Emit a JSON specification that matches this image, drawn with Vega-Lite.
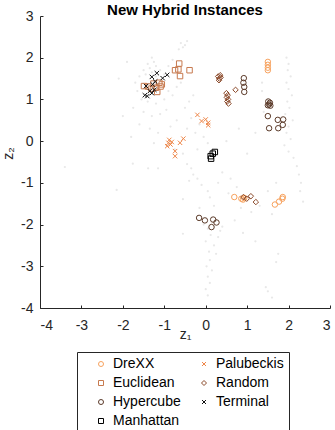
{
 "$schema": "https://vega.github.io/schema/vega-lite/v6.json",
 "width": 290,
 "height": 292,
 "autosize": {"type": "none"},
 "padding": {"left": 40, "top": 16, "right": 5, "bottom": 122},
 "title": {"text": "New Hybrid Instances", "fontSize": 15, "fontWeight": "bold", "font": "Liberation Sans", "anchor": "middle", "color": "#000000", "baseline": "alphabetic", "offset": -3, "dy": 17.5},
 "config": {
  "view": {"stroke": null},
  "font": "Liberation Sans",
  "axis": {"grid": false, "domainColor": "#262626", "tickColor": "#262626", "labelColor": "#262626", "titleColor": "#262626", "labelFont": "Liberation Sans", "titleFont": "Liberation Sans", "labelFontSize": 14, "titleFontSize": 14, "titleFontWeight": "normal", "tickSize": -3, "domainWidth": 1, "tickWidth": 1}
 },
 "datasets": {
  "bg": [
   {"z1": -0.6, "z2": 2.35}, {"z1": -0.55, "z2": 2.25}, {"z1": -0.5, "z2": 2.3}, {"z1": -0.65, "z2": 2.2}, {"z1": -0.45, "z2": 2.4},
   {"z1": -1.3, "z2": 2.0}, {"z1": -1.25, "z2": 1.9}, {"z1": -1.4, "z2": 1.85}, {"z1": -1.2, "z2": 1.8}, {"z1": -1.35, "z2": 1.75},
   {"z1": -1.5, "z2": 1.7}, {"z1": -1.1, "z2": 1.7}, {"z1": -1.45, "z2": 1.6}, {"z1": -1.3, "z2": 1.65}, {"z1": -1.2, "z2": 1.55},
   {"z1": -1.6, "z2": 1.55}, {"z1": -1.0, "z2": 1.6}, {"z1": -0.9, "z2": 1.8}, {"z1": -0.8, "z2": 1.95}, {"z1": -1.7, "z2": 1.4},
   {"z1": -1.65, "z2": 1.2}, {"z1": -1.55, "z2": 1.0}, {"z1": -1.4, "z2": 0.95}, {"z1": -1.2, "z2": 0.9}, {"z1": -1.0, "z2": 1.0},
   {"z1": -0.9, "z2": 1.2}, {"z1": -0.8, "z2": 1.1}, {"z1": -0.7, "z2": 1.3}, {"z1": -0.6, "z2": 1.4}, {"z1": -1.75, "z2": 0.8},
   {"z1": -1.5, "z2": 0.7}, {"z1": -1.3, "z2": 0.6}, {"z1": -1.1, "z2": 0.65}, {"z1": -0.95, "z2": 0.75}, {"z1": -1.6, "z2": 0.4},
   {"z1": -1.35, "z2": 0.3}, {"z1": -1.15, "z2": 0.2}, {"z1": -0.85, "z2": 0.35}, {"z1": -0.7, "z2": 0.5}, {"z1": -0.5, "z2": 0.8},
   {"z1": -0.4, "z2": 0.95}, {"z1": -0.3, "z2": 1.1}, {"z1": -1.9, "z2": 1.9}, {"z1": -2.1, "z2": 1.5}, {"z1": -0.75, "z2": -0.2},
   {"z1": -0.55, "z2": -0.3}, {"z1": -0.95, "z2": -0.1}, {"z1": -1.25, "z2": -0.05}, {"z1": -2.0, "z2": 0.6}, {"z1": -1.8, "z2": 0.1},
   {"z1": -0.45, "z2": 0.3}, {"z1": -0.35, "z2": 0.55}, {"z1": -0.25, "z2": 0.2}, {"z1": -0.15, "z2": 0.4}, {"z1": -0.05, "z2": 0.1},
   {"z1": 0.05, "z2": -0.05}, {"z1": -0.2, "z2": -0.2}, {"z1": -3.4, "z2": -0.62}, {"z1": -1.76, "z2": -0.54}, {"z1": -1.39, "z2": -0.65},
   {"z1": -1.15, "z2": -0.65}, {"z1": -2.15, "z2": -1.17}, {"z1": -0.55, "z2": -1.39}, {"z1": -0.55, "z2": -2.22},
   {"z1": 1.95, "z2": 2.0}, {"z1": 2.0, "z2": 1.85}, {"z1": 1.98, "z2": 1.7}, {"z1": 2.05, "z2": 1.55}, {"z1": 1.95, "z2": 1.4},
   {"z1": 2.0, "z2": 1.25}, {"z1": 2.08, "z2": 1.1}, {"z1": 1.97, "z2": 0.95}, {"z1": 2.02, "z2": 0.8}, {"z1": 1.92, "z2": 0.65},
   {"z1": 2.1, "z2": 0.5}, {"z1": 2.0, "z2": 0.35}, {"z1": 1.95, "z2": 0.2}, {"z1": 2.05, "z2": 0.05}, {"z1": 1.9, "z2": -0.1},
   {"z1": 2.0, "z2": -0.25}, {"z1": 2.12, "z2": -0.4}, {"z1": 2.2, "z2": -0.6}, {"z1": 2.25, "z2": -0.8}, {"z1": 2.3, "z2": -1.0},
   {"z1": 2.28, "z2": -1.2}, {"z1": 2.35, "z2": -1.45},
   {"z1": 1.36, "z2": 1.4}, {"z1": 1.36, "z2": 1.2}, {"z1": 1.5, "z2": 1.0}, {"z1": 1.4, "z2": 0.7}, {"z1": 1.2, "z2": 0.2},
   {"z1": 0.8, "z2": 0.3}, {"z1": 0.5, "z2": 0.0}, {"z1": 1.0, "z2": -0.3},
   {"z1": -0.45, "z2": -0.55}, {"z1": -0.35, "z2": -0.65}, {"z1": -0.3, "z2": -0.8}, {"z1": -0.2, "z2": -0.9}, {"z1": -0.1, "z2": -1.05},
   {"z1": -0.4, "z2": -0.95}, {"z1": 0.05, "z2": -1.2}, {"z1": 0.1, "z2": -1.35}, {"z1": -0.15, "z2": -1.6}, {"z1": 0.2, "z2": -1.55},
   {"z1": 0.3, "z2": -1.0}, {"z1": 0.4, "z2": -0.75}, {"z1": 0.6, "z2": -0.9}, {"z1": 0.75, "z2": -1.1}, {"z1": 0.55, "z2": -1.25},
   {"z1": 0.85, "z2": -1.6}, {"z1": 1.1, "z2": -1.7}, {"z1": 1.3, "z2": -1.55}, {"z1": 1.5, "z2": -1.2}, {"z1": 1.7, "z2": -1.0},
   {"z1": 1.6, "z2": -1.75},
   {"z1": 0.05, "z2": -2.1}, {"z1": 0.12, "z2": -2.25}, {"z1": 0.0, "z2": -2.4}, {"z1": 0.2, "z2": -2.5}, {"z1": 0.08, "z2": -2.65},
   {"z1": 0.25, "z2": -2.7}, {"z1": 0.1, "z2": -2.85}, {"z1": 0.02, "z2": -3.0}, {"z1": 0.15, "z2": -3.1}, {"z1": 0.05, "z2": -3.25},
   {"z1": 0.1, "z2": -3.4}, {"z1": 0.0, "z2": -3.55}, {"z1": 0.05, "z2": -3.7}, {"z1": 0.3, "z2": -2.3}, {"z1": 0.35, "z2": -2.15},
   {"z1": 0.4, "z2": -2.05}, {"z1": -0.05, "z2": -2.0}, {"z1": 0.25, "z2": -1.9}, {"z1": 1.75, "z2": -2.7}, {"z1": 1.7, "z2": -2.9},
   {"z1": 1.45, "z2": -3.5}, {"z1": 1.5, "z2": -3.6}, {"z1": 1.6, "z2": -3.75}, {"z1": 0.7, "z2": -1.9}, {"z1": 0.9, "z2": -2.2},
   {"z1": 1.2, "z2": -2.4}
  ],
  "pts": [
   {"z1": 1.5, "z2": 1.9, "type": "DreXX"}, {"z1": 1.5, "z2": 1.83, "type": "DreXX"}, {"z1": 1.5, "z2": 1.76, "type": "DreXX"}, {"z1": 1.5, "z2": 1.7, "type": "DreXX"},
   {"z1": 0.69, "z2": -1.34, "type": "DreXX"}, {"z1": 0.86, "z2": -1.38, "type": "DreXX"}, {"z1": 0.9, "z2": -1.4, "type": "DreXX"}, {"z1": 0.93, "z2": -1.36, "type": "DreXX"},
   {"z1": 1.67, "z2": -1.52, "type": "DreXX"}, {"z1": 1.77, "z2": -1.45, "type": "DreXX"}, {"z1": 1.86, "z2": -1.34, "type": "DreXX"}, {"z1": 1.85, "z2": -1.38, "type": "DreXX"},
   {"z1": -0.64, "z2": 1.86, "type": "Euclidean"}, {"z1": -0.66, "z2": 1.72, "type": "Euclidean"}, {"z1": -0.74, "z2": 1.7, "type": "Euclidean"}, {"z1": -0.62, "z2": 1.56, "type": "Euclidean"},
   {"z1": -0.39, "z2": 1.7, "type": "Euclidean"}, {"z1": -1.49, "z2": 1.32, "type": "Euclidean"}, {"z1": -1.39, "z2": 1.31, "type": "Euclidean"}, {"z1": -1.26, "z2": 1.38, "type": "Euclidean"},
   {"z1": -1.12, "z2": 1.4, "type": "Euclidean"}, {"z1": -1.09, "z2": 1.31, "type": "Euclidean"}, {"z1": -1.2, "z2": 1.28, "type": "Euclidean"}, {"z1": -1.31, "z2": 1.26, "type": "Euclidean"},
   {"z1": -1.17, "z2": 1.18, "type": "Euclidean"}, {"z1": -1.06, "z2": 1.36, "type": "Euclidean"},
   {"z1": -1.3, "z2": 1.54, "type": "Terminal"}, {"z1": -1.18, "z2": 1.63, "type": "Terminal"}, {"z1": -1.04, "z2": 1.51, "type": "Terminal"}, {"z1": -0.93, "z2": 1.59, "type": "Terminal"},
   {"z1": -1.44, "z2": 1.32, "type": "Terminal"}, {"z1": -1.22, "z2": 1.43, "type": "Terminal"}, {"z1": -1.47, "z2": 1.1, "type": "Terminal"}, {"z1": -1.41, "z2": 1.08, "type": "Terminal"},
   {"z1": -1.3, "z2": 1.15, "type": "Terminal"}, {"z1": -1.24, "z2": 1.23, "type": "Terminal"}, {"z1": -1.28, "z2": 1.36, "type": "Terminal"}, {"z1": -1.35, "z2": 1.2, "type": "Terminal"},
   {"z1": -0.9, "z2": -0.04, "type": "Palubeckis"}, {"z1": -0.85, "z2": -0.08, "type": "Palubeckis"}, {"z1": -0.93, "z2": -0.12, "type": "Palubeckis"}, {"z1": -0.82, "z2": -0.02, "type": "Palubeckis"},
   {"z1": -0.62, "z2": -0.04, "type": "Palubeckis"}, {"z1": -0.54, "z2": 0.06, "type": "Palubeckis"}, {"z1": -0.74, "z2": -0.24, "type": "Palubeckis"}, {"z1": -0.74, "z2": -0.36, "type": "Palubeckis"},
   {"z1": -0.88, "z2": 0.03, "type": "Palubeckis"}, {"z1": -0.2, "z2": 0.63, "type": "Palubeckis"}, {"z1": -0.1, "z2": 0.48, "type": "Palubeckis"}, {"z1": 0.0, "z2": 0.52, "type": "Palubeckis"},
   {"z1": 0.06, "z2": 0.44, "type": "Palubeckis"}, {"z1": 0.06, "z2": 0.38, "type": "Palubeckis"},
   {"z1": 0.22, "z2": -0.26, "type": "Manhattan"}, {"z1": 0.17, "z2": -0.3, "type": "Manhattan"}, {"z1": 0.12, "z2": -0.36, "type": "Manhattan"}, {"z1": 0.13, "z2": -0.42, "type": "Manhattan"},
   {"z1": 0.3, "z2": 1.55, "type": "Random"}, {"z1": 0.33, "z2": 1.5, "type": "Random"}, {"z1": 0.36, "z2": 1.53, "type": "Random"}, {"z1": 0.32, "z2": 1.46, "type": "Random"},
   {"z1": 0.35, "z2": 1.58, "type": "Random"}, {"z1": 0.72, "z2": 1.23, "type": "Random"}, {"z1": 0.5, "z2": 1.15, "type": "Random"}, {"z1": 0.53, "z2": 1.1, "type": "Random"},
   {"z1": 0.51, "z2": 1.05, "type": "Random"}, {"z1": 0.54, "z2": 1.0, "type": "Random"}, {"z1": 0.52, "z2": 0.95, "type": "Random"}, {"z1": 0.55, "z2": 0.9, "type": "Random"},
   {"z1": 0.91, "z2": -1.34, "type": "Random"}, {"z1": 0.99, "z2": -1.38, "type": "Random"}, {"z1": 1.09, "z2": -1.32, "type": "Random"}, {"z1": 1.21, "z2": -1.46, "type": "Random"},
   {"z1": 0.92, "z2": 1.51, "type": "Hypercube"}, {"z1": 0.91, "z2": 1.4, "type": "Hypercube"}, {"z1": 0.93, "z2": 1.3, "type": "Hypercube"}, {"z1": 0.93, "z2": 1.18, "type": "Hypercube"},
   {"z1": 1.51, "z2": 0.95, "type": "Hypercube"}, {"z1": 1.55, "z2": 0.92, "type": "Hypercube"}, {"z1": 1.53, "z2": 0.88, "type": "Hypercube"}, {"z1": 1.5, "z2": 0.86, "type": "Hypercube"},
   {"z1": 1.56, "z2": 0.85, "type": "Hypercube"}, {"z1": 1.5, "z2": 0.6, "type": "Hypercube"}, {"z1": 1.74, "z2": 0.51, "type": "Hypercube"}, {"z1": 1.87, "z2": 0.52, "type": "Hypercube"},
   {"z1": 1.86, "z2": 0.39, "type": "Hypercube"}, {"z1": 1.75, "z2": 0.31, "type": "Hypercube"}, {"z1": 1.53, "z2": 0.31, "type": "Hypercube"},
   {"z1": -0.16, "z2": -1.84, "type": "Hypercube"}, {"z1": -0.02, "z2": -1.9, "type": "Hypercube"}, {"z1": 0.18, "z2": -1.88, "type": "Hypercube"}, {"z1": 0.26, "z2": -1.95, "type": "Hypercube"},
   {"z1": 0.14, "z2": -2.06, "type": "Hypercube"}
  ]
 },
 "layer": [
  {
   "data": {"name": "bg"},
   "mark": {"type": "circle", "size": 5, "color": "#e8e8e8", "opacity": 1},
   "encoding": {
    "x": {"field": "z1", "type": "quantitative", "scale": {"domain": [-4, 3], "nice": false, "zero": false},
          "axis": {"values": [-4, -3, -2, -1, 0, 1, 2, 3], "labelExpr": "'' + datum.value", "labelPadding": 13, "title": "z₁", "titleX": 145, "titleY": 30, "titleBaseline": "alphabetic"}},
    "y": {"field": "z2", "type": "quantitative", "scale": {"domain": [-4, 3], "nice": false, "zero": false},
          "axis": {"values": [-4, -3, -2, -1, 0, 1, 2, 3], "labelExpr": "'' + datum.value", "labelPadding": 10, "title": "z₂", "titleX": -28, "titleY": 137, "titleBaseline": "alphabetic"}}
   }
  },
  {
   "data": {"name": "pts"},
   "mark": {"type": "point", "filled": false, "size": 30, "strokeWidth": 1, "opacity": 1},
   "encoding": {
    "x": {"field": "z1", "type": "quantitative"},
    "y": {"field": "z2", "type": "quantitative"},
    "color": {"field": "type", "type": "nominal",
     "scale": {"domain": ["DreXX", "Euclidean", "Hypercube", "Manhattan", "Palubeckis", "Random", "Terminal"],
               "range": ["#f7a25e", "#c77a4f", "#5b3a29", "#000000", "#ee874a", "#8b4a2b", "#111111"]},
     "legend": {"title": null, "orient": "none", "legendX": 37, "legendY": 336, "columns": 2, "direction": "vertical", "strokeColor": "#262626", "padding": 5, "labelFontSize": 14, "labelFont": "Liberation Sans", "labelColor": "#000000", "symbolSize": 25, "symbolStrokeWidth": 1, "symbolOffset": 12, "labelOffset": 5, "rowPadding": 5, "columnPadding": 4}},
    "shape": {"field": "type", "type": "nominal",
     "scale": {"domain": ["DreXX", "Euclidean", "Hypercube", "Manhattan", "Palubeckis", "Random", "Terminal"],
               "range": ["circle", "square", "circle", "square", "M-0.8,-0.8L0.8,0.8M-0.8,0.8L0.8,-0.8", "diamond", "M-0.8,-0.8L0.8,0.8M-0.8,0.8L0.8,-0.8"]},
     "legend": {"title": null, "orient": "none", "legendX": 37, "legendY": 336, "columns": 2, "direction": "vertical", "strokeColor": "#262626", "padding": 5, "labelFontSize": 14, "labelFont": "Liberation Sans", "labelColor": "#000000", "symbolSize": 25, "symbolStrokeWidth": 1, "symbolOffset": 12, "labelOffset": 5, "rowPadding": 5, "columnPadding": 4}}
   }
  }
 ]
}
